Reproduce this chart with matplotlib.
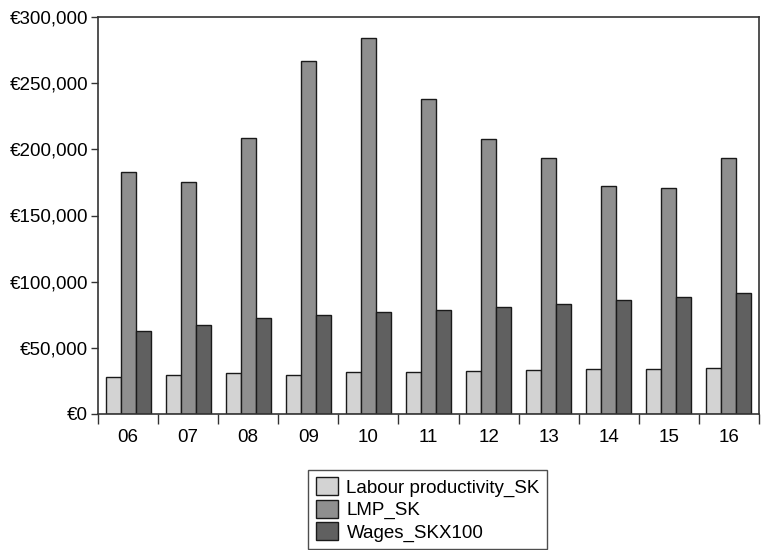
import matplotlib
matplotlib.use("Agg")
import matplotlib.pyplot as plt
import numpy as np
from matplotlib.ticker import FuncFormatter, FixedLocator

plt.rcParams['font.family'] = ['Liberation Sans', 'DejaVu Sans']

years = ["06", "07", "08", "09", "10", "11", "12", "13", "14", "15", "16"]
labour_productivity = [27700, 29700, 30700, 29500, 31500, 31500, 32200, 33000, 33800, 34200, 34500]
lmp = [183000, 175000, 208600, 266500, 284400, 238300, 208000, 193200, 172500, 170500, 193500]
wages_x100 = [62700, 67000, 72500, 74600, 77100, 78600, 80600, 82900, 85900, 88400, 91400]
series_names = ["Labour productivity_SK", "LMP_SK", "Wages_SKX100"]
colors = ["#d3d3d3", "#8f8f8f", "#606060"]

fig = plt.figure(figsize=(7.63, 5.5), dpi=100)
ax = fig.add_axes([98/763, 1-414/550, (759-98)/763, (414-17)/550])

x = np.arange(len(years))
w = 0.25
for i, (vals, name, c) in enumerate(zip([labour_productivity, lmp, wages_x100], series_names, colors)):
    ax.bar(x + (i-1)*w, vals, width=w, color=c, edgecolor="#1a1a1a", linewidth=1.0, label=name)

ax.set_xlim(-0.5, len(years)-0.5)
ax.set_ylim(0, 300000)
ax.set_yticks(np.arange(0, 300001, 50000))
ax.yaxis.set_major_formatter(FuncFormatter(lambda v, p: "€{:,.0f}".format(v)))
ax.set_xticks(x)
ax.set_xticklabels(years)
ax.xaxis.set_minor_locator(FixedLocator(np.arange(-0.5, len(years), 1.0)))
ax.tick_params(axis='x', which='major', length=0, labelsize=13.5, pad=11)
ax.tick_params(axis='x', which='minor', length=7, width=1, color="#333333", direction='out')
ax.tick_params(axis='y', which='major', length=5, width=1, labelsize=13.5, pad=2, color="#333333")
for s in ax.spines.values():
    s.set_color("#333333")
    s.set_linewidth(1.2)

leg = fig.legend(loc='lower left', bbox_to_anchor=(308/763, 1-549/550, (547-308)/763, (549-470)/550),
                 mode='expand', fontsize=13.5, frameon=True, fancybox=False, edgecolor="#222222",
                 handlelength=1.2, handleheight=1.1, handletextpad=0.45, labelspacing=0.15,
                 borderpad=0.4, borderaxespad=0)
leg.get_frame().set_linewidth(1.0)

fig.savefig("out.png", dpi=100)
